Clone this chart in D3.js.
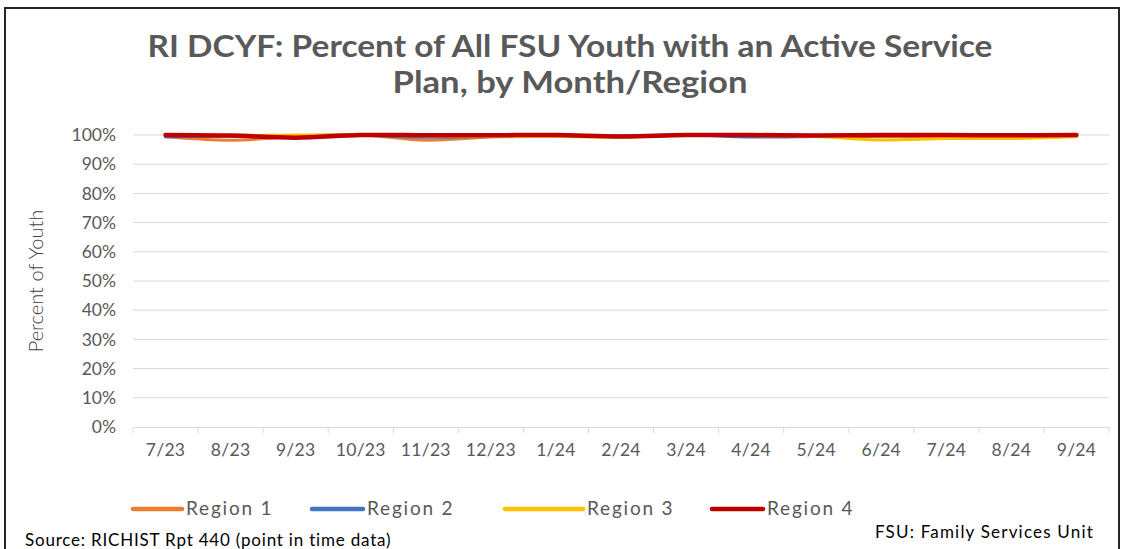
<!DOCTYPE html>
<html>
<head>
<meta charset="utf-8">
<script src="https://cdn.jsdelivr.net/npm/d3@7"></script>
<style>
  body { margin: 0; background: #fff; }
  text { font-family: Lato, "Open Sans", sans-serif; }
</style>
</head>
<body>
<script>
// chart data (percent of youth with an active service plan)
var months = ["7/23","8/23","9/23","10/23","11/23","12/23","1/24","2/24","3/24","4/24","5/24","6/24","7/24","8/24","9/24"];
var region1 = [99.5, 98.2, 99.5, 100, 98.2, 99.3, 99.6, 99.6, 100, 99.8, 99.5, 99.5, 99.5, 99.3, 99.5];
var region2 = [99.3, 99.7, 99.8, 100, 99.2, 99.5, 99.8, 99.7, 100, 99.3, 99.5, 99.8, 99.8, 100, 99.8];
var region3 = [100, 99.8, 100, 100, 99.7, 99.5, 99.5, 99.3, 100, 99.8, 99.5, 98.3, 98.8, 98.8, 99.5];
var region4 = [100, 99.8, 99.1, 100, 99.9, 99.9, 100, 99.5, 100, 100, 99.8, 100, 100, 99.9, 100];
var seriesNames = ["Region 1", "Region 2", "Region 3", "Region 4"];
var seriesColors = ["#ed7d31", "#4472c4", "#ffc000", "#c00000"];
var yTicks = [0, 10, 20, 30, 40, 50, 60, 70, 80, 90, 100];

var series = [region1, region2, region3, region4];

var W = 1127, H = 549;
var margin = {top: 135, right: 18, bottom: 122, left: 133};
var width = W - margin.left - margin.right,
    height = H - margin.top - margin.bottom;

var svg = d3.select("body").append("svg")
    .attr("width", W)
    .attr("height", H);

// outer frame
svg.append("rect")
    .attr("x", 5).attr("y", 8)
    .attr("width", 1114).attr("height", 560)
    .attr("fill", "none")
    .attr("stroke", "#262626")
    .attr("stroke-width", 2);

// title
svg.append("text")
    .attr("x", 570).attr("y", 57)
    .attr("text-anchor", "middle")
    .attr("font-size", 31).attr("font-weight", "bold")
    .attr("fill", "#595959")
    .attr("textLength", 845)
    .attr("lengthAdjust", "spacingAndGlyphs")
    .text("RI DCYF: Percent of All FSU Youth with an Active Service");
svg.append("text")
    .attr("x", 570).attr("y", 93)
    .attr("text-anchor", "middle")
    .attr("font-size", 31).attr("font-weight", "bold")
    .attr("fill", "#595959")
    .attr("textLength", 355)
    .attr("lengthAdjust", "spacingAndGlyphs")
    .text("Plan, by Month/Region");

var g = svg.append("g")
    .attr("transform", "translate(" + margin.left + "," + margin.top + ")");

var x = d3.scaleBand().domain(months).range([0, width]);
var y = d3.scaleLinear().domain([0, 100]).range([height, 0]);

// gridlines
g.append("g")
    .selectAll("line")
    .data(yTicks.slice(1))
    .enter().append("line")
    .attr("x1", 0).attr("x2", width)
    .attr("y1", function(d) { return y(d); })
    .attr("y2", function(d) { return y(d); })
    .attr("stroke", "#d9d9d9")
    .attr("stroke-width", 1);

// y axis labels
var yAxis = g.append("g")
    .call(d3.axisLeft(y).tickValues(yTicks).tickSize(0).tickPadding(17)
        .tickFormat(function(d) { return d + "%"; }));
yAxis.select(".domain").remove();
yAxis.selectAll("text")
    .attr("font-size", 17.5)
    .attr("fill", "#595959")
    .style("font-family", "Lato, sans-serif");

// x axis
var xAxis = g.append("g")
    .attr("transform", "translate(0," + height + ")")
    .call(d3.axisBottom(x).tickSize(0).tickPadding(17));
xAxis.select(".domain").attr("stroke", "#d9d9d9");
xAxis.selectAll("text")
    .attr("font-size", 17.5)
    .attr("fill", "#595959")
    .style("letter-spacing", "0.3px")
    .style("font-family", "Lato, sans-serif");
// tick marks between categories
g.append("g")
    .selectAll("line")
    .data(months.concat(["end"]))
    .enter().append("line")
    .attr("x1", function(d, i) { return i * x.step(); })
    .attr("x2", function(d, i) { return i * x.step(); })
    .attr("y1", height).attr("y2", height + 6)
    .attr("stroke", "#d9d9d9");

// y axis title
svg.append("text")
    .attr("transform", "translate(43," + (margin.top + height / 2) + ") rotate(-90)")
    .attr("text-anchor", "middle")
    .attr("font-size", 20).attr("font-weight", 300)
    .attr("fill", "#404040")
    .text("Percent of Youth");

// lines
var line = d3.line()
    .x(function(d, i) { return x(months[i]) + x.bandwidth() / 2; })
    .y(function(d) { return y(d); })
    .curve(d3.curveCatmullRom);

series.forEach(function(s, i) {
    g.append("path")
        .datum(s)
        .attr("fill", "none")
        .attr("stroke", seriesColors[i])
        .attr("stroke-width", i === 3 ? 4.5 : 3)
        .attr("stroke-linecap", "round")
        .attr("d", line);
});

// legend
var legendX = [133, 312, 505, 712];
var legendTextX = [186, 367, 587, 767];
var legend = svg.append("g");
seriesNames.forEach(function(name, i) {
    legend.append("line")
        .attr("x1", legendX[i]).attr("x2", legendTextX[i] - 4)
        .attr("y1", 509).attr("y2", 509)
        .attr("stroke", seriesColors[i])
        .attr("stroke-width", 4.5)
        .attr("stroke-linecap", "round");
    legend.append("text")
        .attr("x", legendTextX[i]).attr("y", 515)
        .attr("font-size", 19)
        .attr("fill", "#595959")
        .style("letter-spacing", "1.8px")
        .text(name);
});

// footnotes
svg.append("text")
    .attr("x", 25).attr("y", 546)
    .attr("font-size", 17)
    .attr("fill", "#000")
    .style("letter-spacing", "0.8px")
    .text("Source: RICHIST Rpt 440 (point in time data)");
svg.append("text")
    .attr("x", 875).attr("y", 538)
    .attr("font-size", 17)
    .attr("fill", "#000")
    .style("letter-spacing", "1.2px")
    .text("FSU: Family Services Unit");
</script>
</body>
</html>
